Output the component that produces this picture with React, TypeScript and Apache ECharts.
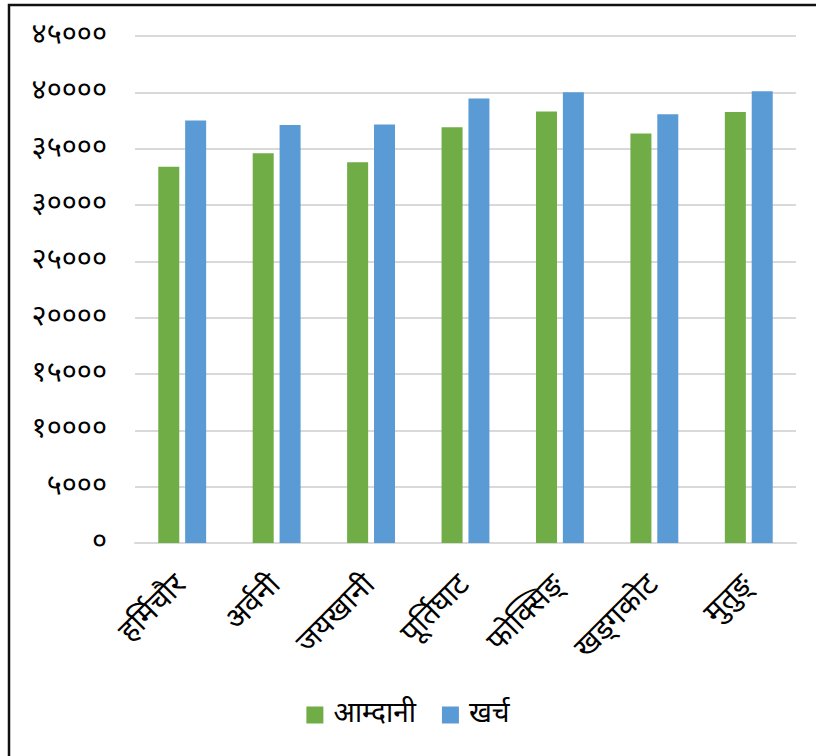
import React, { useEffect, useRef } from "react";
import * as echarts from "echarts";

const categories = ["हर्मिचौर", "अर्वनी", "जयखानी", "पूर्तिघाट", "फोक्सिङ्", "खड्गकोट", "मुतुङ्"];
const incomeValues = [33400, 34600, 33800, 36900, 38300, 36350, 38250];
const expenseValues = [37500, 37100, 37150, 39450, 40000, 38050, 40100];
const tickLabels = ["०", "५०००", "१००००", "१५०००", "२००००", "२५०००", "३००००", "३५०००", "४००००", "४५०००"];
const seriesNames = ["आम्दानी", "खर्च"];

const FONT = "Mangal, 'Nirmala UI', 'Noto Sans Devanagari', 'Lohit Devanagari', FreeSans, 'Noto Sans', sans-serif";

export default function App() {
  const ref = useRef<HTMLDivElement>(null);
  useEffect(() => {
    if (!ref.current) return;
    const chart = echarts.init(ref.current, null, { renderer: "svg" });
    chart.setOption({
      animation: false,
      backgroundColor: "#ffffff",
      textStyle: { fontFamily: FONT },
      grid: { left: 135, right: 20, top: 36, bottom: 213, containLabel: false },
      legend: {
        data: seriesNames,
        bottom: 22,
        left: "center",
        itemWidth: 17,
        itemHeight: 17,
        itemGap: 26,
        icon: "rect",
        textStyle: { fontFamily: FONT, fontSize: 28, color: "#000", padding: [0, 0, 0, 5] },
      },
      xAxis: {
        type: "category",
        data: categories,
        axisTick: { show: false },
        axisLine: { lineStyle: { color: "#D9D9D9", width: 2 } },
        axisLabel: {
          rotate: 45,
          interval: 0,
          margin: 38,
          fontFamily: FONT,
          fontSize: 30,
          color: "#000",
        },
      },
      yAxis: {
        type: "value",
        min: 0,
        max: 45000,
        interval: 5000,
        axisLine: { show: false },
        axisTick: { show: false },
        splitLine: { lineStyle: { color: "#D9D9D9", width: 2 } },
        axisLabel: {
          margin: 28,
          fontFamily: FONT,
          fontSize: 29,
          color: "#000",
          formatter: (v: number) => tickLabels[Math.round(v / 5000)] ?? "",
        },
      },
      series: [
        {
          name: seriesNames[0],
          type: "bar",
          data: incomeValues,
          barWidth: 21,
          barGap: "28%",
          itemStyle: { color: "#70AD47" },
        },
        {
          name: seriesNames[1],
          type: "bar",
          data: expenseValues,
          barWidth: 21,
          barGap: "28%",
          itemStyle: { color: "#5B9BD5" },
        },
      ],
      graphic: [
        {
          type: "rect",
          shape: { x: 9, y: 5, width: 830, height: 760 },
          style: { fill: "none", stroke: "#111", lineWidth: 2.5 },
          silent: true,
        },
      ],
    });
    return () => chart.dispose();
  }, []);
  return (
    <div
      ref={ref}
      style={{ position: "absolute", left: 0, top: 0, width: 816, height: 756 }}
    />
  );
}
